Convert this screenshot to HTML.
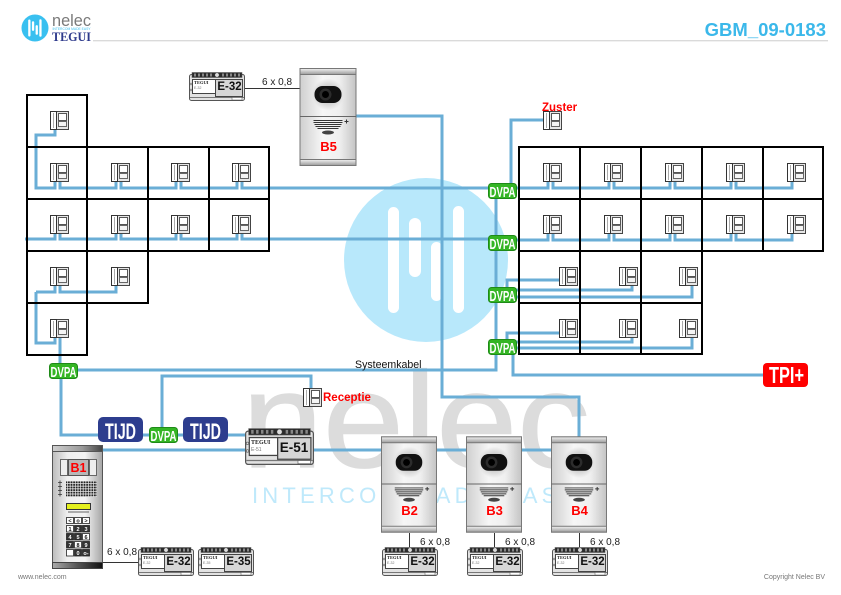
<!DOCTYPE html>
<html><head><meta charset="utf-8"><style>
html,body{margin:0;padding:0;background:#fff;}
svg{display:block;font-family:"Liberation Sans",sans-serif;}
</style></head><body>
<svg width="841" height="595" viewBox="0 0 841 595" xmlns="http://www.w3.org/2000/svg">
<defs>
<linearGradient id="gPanel" x1="0" y1="0" x2="1" y2="0"><stop offset="0" stop-color="#cfcfcf"/><stop offset=".4" stop-color="#f6f6f6"/><stop offset=".7" stop-color="#f0f0f0"/><stop offset="1" stop-color="#c4c4c4"/></linearGradient>
<linearGradient id="gBand" x1="0" y1="0" x2="0" y2="1"><stop offset="0" stop-color="#f2f2f2"/><stop offset="1" stop-color="#9a9a9a"/></linearGradient>
<radialGradient id="gHalo"><stop offset=".55" stop-color="#d0d0d0"/><stop offset="1" stop-color="#d0d0d0" stop-opacity="0"/></radialGradient>
<linearGradient id="gB1" x1="0" y1="0" x2="1" y2="0"><stop offset="0" stop-color="#bcbcbc"/><stop offset=".3" stop-color="#efefef"/><stop offset=".65" stop-color="#f4f4f4"/><stop offset="1" stop-color="#a5a5a5"/></linearGradient>
<linearGradient id="gB1top" x1="0" y1="0" x2="1" y2="0"><stop offset="0" stop-color="#d0d0d0"/><stop offset=".6" stop-color="#999"/><stop offset="1" stop-color="#444"/></linearGradient>
<linearGradient id="gB1bot" x1="0" y1="0" x2="1" y2="0"><stop offset="0" stop-color="#aaa"/><stop offset=".5" stop-color="#555"/><stop offset="1" stop-color="#111"/></linearGradient>
<pattern id="dots" width="2.6" height="2.6" patternUnits="userSpaceOnUse"><rect width="2.6" height="2.6" fill="#d8d8d8"/><circle cx="1.3" cy="1.3" r="1" fill="#222"/></pattern>

<symbol id="mon" viewBox="0 0 19 19">
 <rect x="6.5" y="0.5" width="12" height="18" fill="#e6e6e6" stroke="#444"/>
 <rect x="8.5" y="2.5" width="8" height="7" fill="#fff" stroke="#555"/>
 <rect x="8.5" y="10.5" width="8" height="5" fill="#f4f4f4" stroke="#666"/>
 <rect x="0.5" y="0.5" width="6" height="18" fill="#fff" stroke="#333"/>
 <line x1="3.5" y1="2" x2="3.5" y2="17" stroke="#aaa"/>
</symbol>

<symbol id="panel" viewBox="0 0 57 98">
 <rect x="0.5" y="0.5" width="56" height="97" fill="url(#gPanel)" stroke="#777"/>
 <rect x="0.5" y="0.5" width="56" height="6" fill="url(#gBand)" stroke="#777"/>
 <rect x="0.5" y="91.5" width="56" height="6" fill="url(#gBand)" stroke="#777"/>
 <line x1="0.5" y1="48.5" x2="56.5" y2="48.5" stroke="#666"/>
 <circle cx="28.5" cy="26.5" r="16" fill="url(#gHalo)"/>
 <rect x="15" y="18" width="27" height="17" rx="8" fill="#111"/>
 <circle cx="26" cy="26.5" r="6" fill="#2c2c2c"/>
 <circle cx="26" cy="26.5" r="3.5" fill="#000"/>
 <g stroke="#333" stroke-width="1">
  <line x1="14" y1="52.5" x2="43" y2="52.5"/>
  <line x1="14" y1="54.5" x2="43" y2="54.5"/>
  <line x1="15" y1="56.5" x2="42" y2="56.5"/>
  <line x1="16" y1="58.5" x2="41" y2="58.5"/>
  <line x1="18" y1="60.5" x2="39" y2="60.5"/>
 </g>
 <ellipse cx="28.5" cy="64.5" rx="6" ry="2" fill="#444"/>
 <path d="M45 53.5h4M47 51.5v4" stroke="#333" stroke-width="1"/>
</symbol>

<symbol id="mod" viewBox="0 0 56 29" preserveAspectRatio="none">
 <rect x="0.5" y="2.5" width="55" height="26" rx="2" fill="#e2e2e2" stroke="#555"/>
 <rect x="3" y="0.5" width="50" height="5" fill="#2b2b2b" stroke="#555" stroke-width=".5"/>
 <g fill="#888"><rect x="5" y="1.5" width="2" height="3"/><rect x="9" y="1.5" width="2" height="3"/><rect x="13" y="1.5" width="2" height="3"/><rect x="17" y="1.5" width="2" height="3"/><rect x="21" y="1.5" width="2" height="3"/><rect x="33" y="1.5" width="2" height="3"/><rect x="37" y="1.5" width="2" height="3"/><rect x="41" y="1.5" width="2" height="3"/><rect x="45" y="1.5" width="2" height="3"/><rect x="49" y="1.5" width="2" height="3"/></g>
 <circle cx="28" cy="3" r="2.2" fill="#ddd" stroke="#333" stroke-width=".5"/>
 <rect x="3.5" y="7.5" width="23" height="14" fill="#fff" stroke="#444"/>
 <rect x="26.5" y="7.5" width="27" height="17" fill="#d6d6d6" stroke="#444"/>
 <line x1="1" y1="25.5" x2="55" y2="25.5" stroke="#777"/>
 <rect x="43" y="25.5" width="10" height="2.5" fill="#fff" stroke="#555" stroke-width=".5"/>
 <circle cx="2" cy="12" r="1" fill="none" stroke="#555" stroke-width=".5"/>
 <circle cx="2" cy="18" r="1" fill="none" stroke="#555" stroke-width=".5"/>
</symbol>
</defs>

<!-- Header -->
<circle cx="35" cy="28" r="13.5" fill="#39c0f0"/>
<g fill="#fff">
 <rect x="28.2" y="19.5" width="2.3" height="17" rx="1.1"/>
 <rect x="31.9" y="21.3" width="2.3" height="9.6" rx="1.1"/>
 <rect x="35.6" y="25.1" width="2.3" height="9.7" rx="1.1"/>
 <rect x="39.3" y="19.3" width="2.3" height="17.4" rx="1.1"/>
</g>
<text x="52" y="26" font-size="17" fill="#7a7a7a" textLength="39" lengthAdjust="spacingAndGlyphs">nelec</text>
<text x="52.5" y="30" font-size="3.2" fill="#39c0f0" textLength="38" lengthAdjust="spacingAndGlyphs">INTERCOM MADE EASY</text>
<text x="52" y="41" font-size="13" font-weight="bold" fill="#2e3a8c" font-family="'Liberation Serif', serif" textLength="39" lengthAdjust="spacingAndGlyphs">TEGUI</text>
<line x1="93" y1="40.7" x2="828" y2="40.7" stroke="#dadada" stroke-width="1.3"/>
<text x="826" y="36" font-size="18.5" font-weight="bold" fill="#3bb8ea" text-anchor="end">GBM_09-0183</text>

<!-- Watermark -->
<circle cx="426" cy="260" r="82" fill="#b8e8fb"/>
<g fill="#fff">
 <rect x="388" y="207" width="11" height="106" rx="5.5"/>
 <rect x="409" y="218" width="12" height="59" rx="6"/>
 <rect x="431" y="242" width="11" height="59" rx="5.5"/>
 <rect x="453" y="206" width="11" height="107" rx="5.5"/>
</g>
<text x="242" y="467" font-size="136" fill="#dcdcdc" stroke="#dcdcdc" stroke-width="1.2" textLength="348" lengthAdjust="spacingAndGlyphs">nelec</text>
<text x="252" y="503" font-size="22" fill="#bfe9fb" letter-spacing="4.2">INTERCOM MADE EASY</text>

<!-- Wires -->
<g fill="none" stroke="#6aaed6" stroke-width="3">
 <path d="M55,130 V135 H36 V188 H55 V182"/>
 <path d="M60,182 V188 H116 V182 M121,182 V188 H176 V182 M181,182 V188 H237 V182 M242,182 V188 H492"/>
 <path d="M25,239 H55 V234 M60,234 V239 H116 V234 M121,234 V239 H176 V234 M181,234 V239 H237 V234 M242,234 V239 H492"/>
 <path d="M36,292 H55 V286 M60,286 V292 H116 V286 M36,292 V343 H55 V338 M60,338 V366"/>
 <path d="M543,120 H511 V186"/>
 <path d="M515,188 H548 V182 M553,182 V188 H609 V182 M614,182 V188 H670 V182 M675,182 V188 H731 V182 M736,182 V188 H792 V182"/>
 <path d="M515,240 H548 V234 M553,234 V240 H609 V234 M614,234 V240 H670 V234 M675,234 V240 H731 V234 M736,234 V240 H792 V234"/>
 <path d="M507,289 V280 H560 M515,290 H632 V286 M515,297 H692 V286"/>
 <path d="M507,341 V333 H560 M515,342 H632 V338 M515,348 H692 V338"/>
 <path d="M513,352 V375 H765"/>
 <path d="M496,190 V370 H75"/>
 <path d="M61,376 V435 H100"/>
 <path d="M141,435 H151 M175,435 H185 M226,435 H247"/>
 <path d="M162,429 V376 H311 V389"/>
 <path d="M103,450 H382 M436,450 H467 M521,450 H552"/>
 <path d="M356,116 H442 V397 H579 V437"/>
</g>

<!-- Thin cable lines -->
<g stroke="#333" stroke-width="1" fill="none">
 <path d="M245,88.5 H300"/>
 <path d="M103,562.5 H138"/>
 <path d="M409.5,533 V547 M494.5,533 V547 M579.5,533 V547"/>
</g>
<g font-size="10" fill="#222">
 <text x="262" y="85">6 x 0,8</text>
 <text x="107" y="555">6 x 0,8</text>
 <text x="420" y="545">6 x 0,8</text>
 <text x="505" y="545">6 x 0,8</text>
 <text x="590" y="545">6 x 0,8</text>
</g>
<text x="355" y="368" font-size="10.6" fill="#111">Systeemkabel</text>

<!-- Left grid -->
<g fill="none" stroke="#000" stroke-width="2">
 <rect x="27" y="95" width="60" height="52"/>
 <rect x="27" y="147" width="60" height="52"/><rect x="87" y="147" width="61" height="52"/><rect x="148" y="147" width="61" height="52"/><rect x="209" y="147" width="60" height="52"/>
 <rect x="27" y="199" width="60" height="52"/><rect x="87" y="199" width="61" height="52"/><rect x="148" y="199" width="61" height="52"/><rect x="209" y="199" width="60" height="52"/>
 <rect x="27" y="251" width="60" height="52"/><rect x="87" y="251" width="61" height="52"/>
 <rect x="27" y="303" width="60" height="52"/>
</g>
<!-- Right grid -->
<g fill="none" stroke="#000" stroke-width="2">
 <rect x="519" y="147" width="61" height="52"/><rect x="580" y="147" width="61" height="52"/><rect x="641" y="147" width="61" height="52"/><rect x="702" y="147" width="61" height="52"/><rect x="763" y="147" width="60" height="52"/>
 <rect x="519" y="199" width="61" height="52"/><rect x="580" y="199" width="61" height="52"/><rect x="641" y="199" width="61" height="52"/><rect x="702" y="199" width="61" height="52"/><rect x="763" y="199" width="60" height="52"/>
 <rect x="519" y="251" width="61" height="52"/><rect x="580" y="251" width="61" height="52"/><rect x="641" y="251" width="61" height="52"/>
 <rect x="519" y="303" width="61" height="51"/><rect x="580" y="303" width="61" height="51"/><rect x="641" y="303" width="61" height="51"/>
</g>

<!-- Monitors -->
<use href="#mon" x="50" y="111" width="19" height="19"/>
<use href="#mon" x="50" y="163" width="19" height="19"/><use href="#mon" x="111" y="163" width="19" height="19"/><use href="#mon" x="171" y="163" width="19" height="19"/><use href="#mon" x="232" y="163" width="19" height="19"/>
<use href="#mon" x="50" y="215" width="19" height="19"/><use href="#mon" x="111" y="215" width="19" height="19"/><use href="#mon" x="171" y="215" width="19" height="19"/><use href="#mon" x="232" y="215" width="19" height="19"/>
<use href="#mon" x="50" y="267" width="19" height="19"/><use href="#mon" x="111" y="267" width="19" height="19"/>
<use href="#mon" x="50" y="319" width="19" height="19"/>
<use href="#mon" x="543" y="111" width="19" height="19"/>
<use href="#mon" x="543" y="163" width="19" height="19"/><use href="#mon" x="604" y="163" width="19" height="19"/><use href="#mon" x="665" y="163" width="19" height="19"/><use href="#mon" x="726" y="163" width="19" height="19"/><use href="#mon" x="787" y="163" width="19" height="19"/>
<use href="#mon" x="543" y="215" width="19" height="19"/><use href="#mon" x="604" y="215" width="19" height="19"/><use href="#mon" x="665" y="215" width="19" height="19"/><use href="#mon" x="726" y="215" width="19" height="19"/><use href="#mon" x="787" y="215" width="19" height="19"/>
<use href="#mon" x="559" y="267" width="19" height="19"/><use href="#mon" x="619" y="267" width="19" height="19"/><use href="#mon" x="679" y="267" width="19" height="19"/>
<use href="#mon" x="559" y="319" width="19" height="19"/><use href="#mon" x="619" y="319" width="19" height="19"/><use href="#mon" x="679" y="319" width="19" height="19"/>
<use href="#mon" x="303" y="388" width="19" height="19"/>

<g font-size="11.5" font-weight="bold" fill="#f00">
 <text x="542" y="111">Zuster</text>
 <text x="323" y="401">Receptie</text>
</g>

<!-- DVPA -->
<g fill="#34b524" stroke="#1f8a18" stroke-width="1">
 <rect x="49.5" y="363.5" width="28" height="15" rx="3"/>
 <rect x="149.5" y="427.5" width="28" height="15" rx="3"/>
 <rect x="488.5" y="183.5" width="28" height="15" rx="3"/>
 <rect x="488.5" y="235.5" width="28" height="15" rx="3"/>
 <rect x="488.5" y="287.5" width="28" height="15" rx="3"/>
 <rect x="488.5" y="339.5" width="28" height="15" rx="3"/>
</g>
<g font-size="14.5" font-weight="bold" fill="#fff" text-anchor="middle">
 <text x="63.5" y="377" textLength="26" lengthAdjust="spacingAndGlyphs">DVPA</text>
 <text x="163.5" y="441" textLength="26" lengthAdjust="spacingAndGlyphs">DVPA</text>
 <text x="502.5" y="197" textLength="26" lengthAdjust="spacingAndGlyphs">DVPA</text>
 <text x="502.5" y="249" textLength="26" lengthAdjust="spacingAndGlyphs">DVPA</text>
 <text x="502.5" y="301" textLength="26" lengthAdjust="spacingAndGlyphs">DVPA</text>
 <text x="502.5" y="353" textLength="26" lengthAdjust="spacingAndGlyphs">DVPA</text>
</g>

<!-- TIJD -->
<rect x="98" y="417" width="45" height="25" rx="5" fill="#2d3d8e"/>
<rect x="183" y="417" width="45" height="25" rx="5" fill="#2d3d8e"/>
<g font-size="22" font-weight="bold" fill="#fff" text-anchor="middle">
 <text x="120.5" y="439" textLength="31" lengthAdjust="spacingAndGlyphs">TIJD</text>
 <text x="205.5" y="439" textLength="31" lengthAdjust="spacingAndGlyphs">TIJD</text>
</g>

<!-- TPI+ -->
<rect x="763" y="363" width="45" height="24" rx="4" fill="#f00"/>
<text x="786.5" y="383" font-size="23" font-weight="bold" fill="#fff" text-anchor="middle" textLength="35" lengthAdjust="spacingAndGlyphs">TPI+</text>

<!-- Modules -->
<use href="#mod" x="189" y="72" width="56" height="29"/>
<use href="#mod" x="138" y="547" width="56" height="29"/>
<use href="#mod" x="198" y="547" width="56" height="29"/>
<use href="#mod" x="382" y="547" width="56" height="29"/>
<use href="#mod" x="467" y="547" width="56" height="29"/>
<use href="#mod" x="552" y="547" width="56" height="29"/>
<use href="#mod" x="245" y="428" width="69" height="37"/>
<g font-family="'Liberation Serif', serif" font-weight="bold" font-size="4.5" fill="#222">
 <text x="194" y="84">TEGUI</text>
 <text x="143" y="559">TEGUI</text>
 <text x="203" y="559">TEGUI</text>
 <text x="387" y="559">TEGUI</text>
 <text x="472" y="559">TEGUI</text>
 <text x="557" y="559">TEGUI</text>
 <text x="251" y="444" font-size="6">TEGUI</text>
</g>
<g font-size="3.5" fill="#777">
 <text x="194" y="89">E-32</text>
 <text x="143" y="564">E-32</text>
 <text x="203" y="564">E-35</text>
 <text x="387" y="564">E-32</text>
 <text x="472" y="564">E-32</text>
 <text x="557" y="564">E-32</text>
 <text x="251" y="451" font-size="5">E-51</text>
</g>
<g font-size="11.5" font-weight="bold" fill="#111" text-anchor="middle">
 <text x="229.5" y="90">E-32</text>
 <text x="178.5" y="565">E-32</text>
 <text x="238.5" y="565">E-35</text>
 <text x="422.5" y="565">E-32</text>
 <text x="507.5" y="565">E-32</text>
 <text x="592.5" y="565">E-32</text>
 <text x="294" y="452" font-size="13.5">E-51</text>
</g>

<!-- Door panels -->
<use href="#panel" x="299" y="68" width="58" height="98"/>
<use href="#panel" x="381" y="436" width="56" height="97"/>
<use href="#panel" x="466" y="436" width="56" height="97"/>
<use href="#panel" x="551" y="436" width="56" height="97"/>
<g font-size="13" font-weight="bold" fill="#f00" text-anchor="middle">
 <text x="328.5" y="151">B5</text>
 <text x="409.5" y="515">B2</text>
 <text x="494.5" y="515">B3</text>
 <text x="579.5" y="515">B4</text>
</g>

<!-- B1 panel -->
<rect x="52.5" y="445.5" width="50" height="123" fill="url(#gB1)" stroke="#555"/>
<rect x="52.5" y="445.5" width="50" height="6" fill="url(#gB1top)" stroke="#555"/>
<rect x="52.5" y="562.5" width="50" height="6" fill="url(#gB1bot)" stroke="#444"/>
<rect x="60.5" y="459.5" width="7" height="16" fill="#eee" stroke="#666"/>
<rect x="68.5" y="459.5" width="20" height="16" fill="#b8b8b8" stroke="#555"/>
<rect x="89.5" y="459.5" width="7" height="16" fill="#eee" stroke="#666"/>
<text x="78.5" y="472" font-size="12.5" font-weight="bold" fill="#f00" text-anchor="middle">B1</text>
<path d="M58,482.5h4M60,480.5v4M58,486.5h4M60,484.5v4M58,490.5h4M60,488.5v4M58,494.5h4M60,492.5v4" stroke="#333" stroke-width=".8"/>
<rect x="66" y="481" width="31" height="16" fill="url(#dots)"/>
<rect x="66.5" y="503.5" width="24" height="6" fill="#e4f01e" stroke="#333"/>
<line x1="68" y1="512" x2="89" y2="512" stroke="#666" stroke-width="1"/>
<g fill="#fff" stroke="#222" stroke-width=".8">
 <rect x="66.5" y="517.5" width="7" height="6"/><rect x="74.5" y="517.5" width="7" height="6"/><rect x="82.5" y="517.5" width="7" height="6"/>
 <rect x="66.5" y="525.5" width="7" height="6.5"/><rect x="74.5" y="525.5" width="7" height="6.5" fill="#333"/><rect x="82.5" y="525.5" width="7" height="6.5" fill="#333"/>
 <rect x="66.5" y="533.5" width="7" height="6.5" fill="#333"/><rect x="74.5" y="533.5" width="7" height="6.5" fill="#333"/><rect x="82.5" y="533.5" width="7" height="6.5"/>
 <rect x="66.5" y="541.5" width="7" height="6.5" fill="#333"/><rect x="74.5" y="541.5" width="7" height="6.5"/><rect x="82.5" y="541.5" width="7" height="6.5" fill="#333"/>
 <rect x="66.5" y="549.5" width="7" height="6.5"/><rect x="74.5" y="549.5" width="7" height="6.5" fill="#333"/><rect x="82.5" y="549.5" width="7" height="6.5" fill="#333"/>
</g>
<g font-size="5.5" font-weight="bold" text-anchor="middle" fill="#111">
 <text x="70" y="522.5">&lt;</text><text x="78" y="522.5">o</text><text x="86" y="522.5">&gt;</text>
 <text x="70" y="531">1</text><text x="78" y="531" fill="#fff">2</text><text x="86" y="531" fill="#fff">3</text>
 <text x="70" y="539" fill="#fff">4</text><text x="78" y="539" fill="#fff">5</text><text x="86" y="539">6</text>
 <text x="70" y="547" fill="#fff">7</text><text x="78" y="547">8</text><text x="86" y="547" fill="#fff">9</text>
 <text x="78" y="555" fill="#fff">0</text><text x="86" y="555" fill="#fff">o-</text>
</g>

<!-- Footer -->
<text x="18" y="579" font-size="7" fill="#777">www.nelec.com</text>
<text x="825" y="579" font-size="7" fill="#777" text-anchor="end">Copyright Nelec BV</text>
</svg>
</body></html>
